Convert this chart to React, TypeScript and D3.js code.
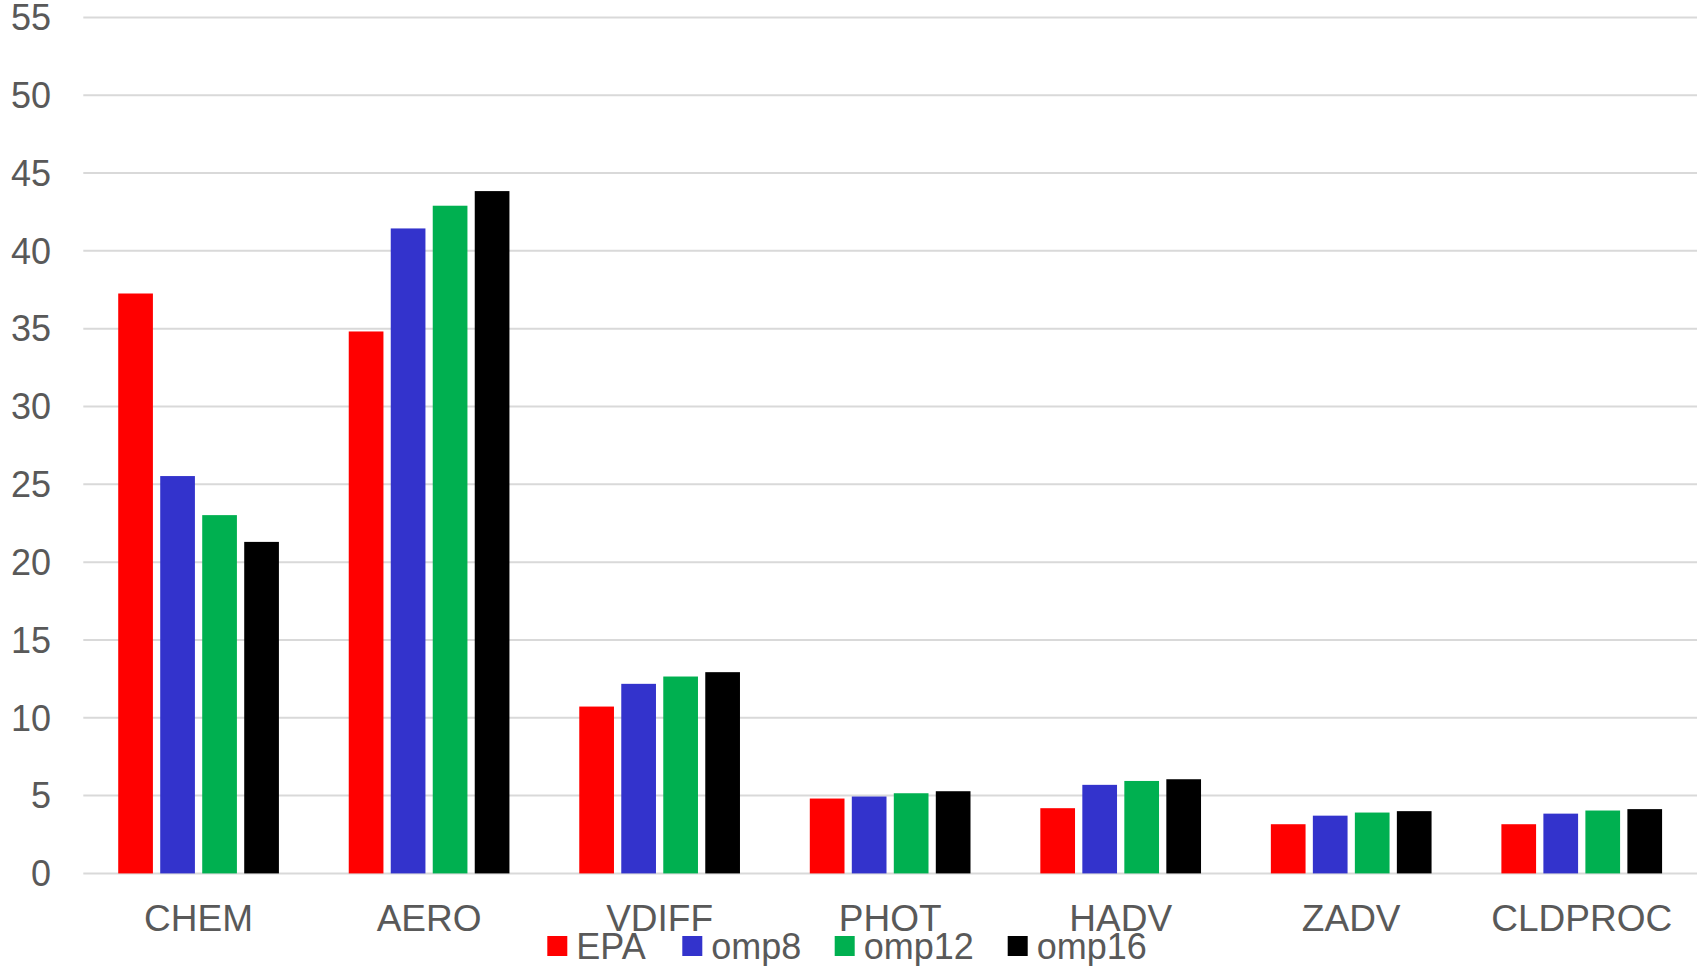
import React from "react";
import * as d3 from "d3";

// Process timing (seconds) per science process, by build
const categories = ["CHEM", "AERO", "VDIFF", "PHOT", "HADV", "ZADV", "CLDPROC"];
const seriesNames = ["EPA", "omp8", "omp12", "omp16"];
const seriesColors = ["#FF0000", "#3333CC", "#00B050", "#000000"];

const epa = [37.26, 34.82, 10.72, 4.81, 4.19, 3.16, 3.16];
const omp8 = [25.53, 41.44, 12.18, 4.94, 5.69, 3.71, 3.84];
const omp12 = [23.02, 42.9, 12.65, 5.15, 5.94, 3.91, 4.04];
const omp16 = [21.3, 43.84, 12.93, 5.28, 6.05, 4.0, 4.13];

const yTicks = [0, 5, 10, 15, 20, 25, 30, 35, 40, 45, 50, 55];

const W = 1701;
const H = 966;
const FONT = "'Liberation Sans', Arial, sans-serif";
const TEXT = "#595959";

export default function App() {
  const seriesValues = [epa, omp8, omp12, omp16];

  const plotLeft = 83.3;
  const plotRight = 1697;
  const y = d3.scaleLinear().domain([0, 55]).range([873.4, 17.4]);
  const x = d3.scaleBand<string>().domain(categories).range([plotLeft, plotRight]).padding(0);

  const groupWidth = 160.7;
  const inner = d3
    .scaleBand<string>()
    .domain(seriesNames)
    .range([0, groupWidth])
    .paddingInner(7.3 / 42)
    .paddingOuter(0);

  const groupStart = (c: string) => (x(c) as number) + (x.bandwidth() - groupWidth) / 2;

  // legend layout
  const legendSquareX = [547.3, 682.3, 834.7, 1007.7];

  return (
    <svg
      width={W}
      height={H}
      style={{ position: "absolute", left: 0, top: 0, background: "#fff" }}
      fontFamily={FONT}
    >
      <rect x={0} y={0} width={W} height={H} fill="#fff" />

      {/* horizontal gridlines */}
      {yTicks.map((t) => (
        <line
          key={"g" + t}
          x1={plotLeft}
          x2={plotRight}
          y1={y(t)}
          y2={y(t)}
          stroke="#D9D9D9"
          strokeWidth={2}
        />
      ))}

      {/* y tick labels */}
      {yTicks.map((t) => (
        <text
          key={"t" + t}
          x={51}
          y={y(t) + 12.8}
          textAnchor="end"
          fontSize={36}
          fill={TEXT}
        >
          {t}
        </text>
      ))}

      {/* bars */}
      {categories.map((c, ci) => (
        <g key={c}>
          {seriesNames.map((s, si) => {
            const v = seriesValues[si][ci];
            return (
              <rect
                key={s}
                x={groupStart(c) + (inner(s) as number)}
                y={y(v)}
                width={inner.bandwidth()}
                height={y(0) - y(v)}
                fill={seriesColors[si]}
              />
            );
          })}
        </g>
      ))}

      {/* category labels */}
      {categories.map((c) => (
        <text
          key={"c" + c}
          x={(x(c) as number) + x.bandwidth() / 2}
          y={930.5}
          textAnchor="middle"
          fontSize={37}
          fill={TEXT}
        >
          {c}
        </text>
      ))}

      {/* legend */}
      {seriesNames.map((s, si) => (
        <g key={"l" + s}>
          <rect x={legendSquareX[si]} y={936} width={20} height={20} fill={seriesColors[si]} />
          <text x={legendSquareX[si] + 29} y={959.3} fontSize={36} fill={TEXT}>
            {s}
          </text>
        </g>
      ))}
    </svg>
  );
}
